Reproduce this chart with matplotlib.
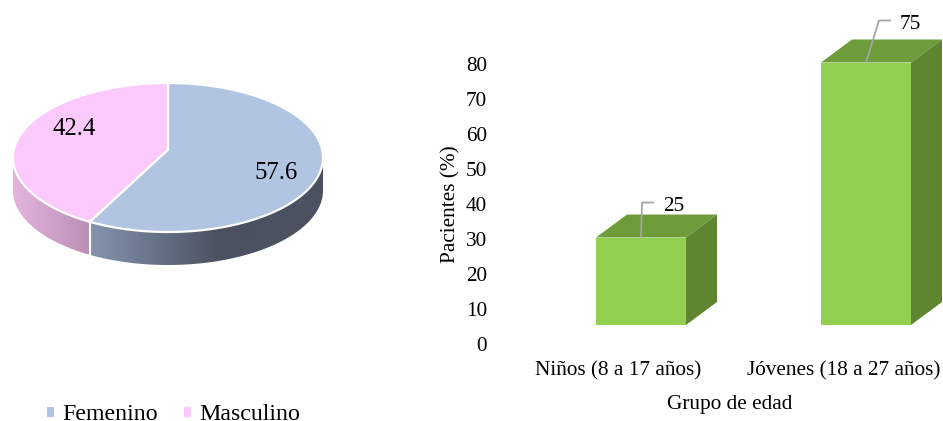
import numpy as np
import matplotlib
matplotlib.use("Agg")
import matplotlib.pyplot as plt
from matplotlib.colors import LinearSegmentedColormap
from matplotlib.patches import Patch, Polygon

plt.rcParams['font.family'] = ['Liberation Serif', 'DejaVu Serif']

# pie data
sexo = ["Femenino", "Masculino"]
sexo_pct = [57.6, 42.4]
sexo_colors = ["#B1C5E3", "#FBC9FB"]

# bar data
grupos = ["Niños (8 a 17 años)", "Jóvenes (18 a 27 años)"]
grupos_pct = [25, 75]
y_ticks = [0, 10, 20, 30, 40, 50, 60, 70, 80]

W, H = 943, 421
fig = plt.figure(figsize=(W / 100, H / 100), dpi=100, facecolor="white")


def px_axes(left, top, right, bottom):
    return fig.add_axes([left / W, 1 - bottom / H, (right - left) / W, (bottom - top) / H])


# ---- 3D pie, drawn in pixel coordinates ----
ax_pie = px_axes(0, 60, 340, 290)
ax_pie.axis("off")

cx, cy = 168, 157.5
a, b = 155, 74.5
wall = 33
s = 0.107  # perspective shift of the centre of the disc


def disc_point(t):
    # point on the unit disc seen with perspective, t in radians
    u, v = np.cos(t), np.sin(t)
    d = 1 + s * v
    return u * np.sqrt(1 - s ** 2) / d, (v + s) / d


def to_px(u, v):
    return cx + a * np.asarray(u), cy - b * np.asarray(v)


def side_wall(phi0, phi1, c0, c1, x_end):
    phi = np.linspace(phi0, phi1, 150)
    x, y = to_px(np.cos(phi), np.sin(phi))
    verts = np.r_[np.c_[x, y], np.c_[x, y + wall][::-1]]
    clip = Polygon(verts, transform=ax_pie.transData, facecolor="none", edgecolor="none")
    ax_pie.add_patch(clip)
    cmap = LinearSegmentedColormap.from_list("lado", [c0, c1])
    x0, x1 = verts[:, 0].min(), verts[:, 0].max()
    grad = np.clip((np.linspace(x0, x1, 256) - x0) / (x_end - x0), 0, 1)[None, :]
    im = ax_pie.imshow(grad, cmap=cmap, extent=(x0, x1, verts[:, 1].max(), verts[:, 1].min()),
                       aspect="auto", zorder=1, vmin=0, vmax=1)
    im.set_clip_path(clip)


fracs = np.array(sexo_pct) / sum(sexo_pct)
t_ini = np.pi / 2
t_cut = t_ini - 2 * np.pi * fracs[0]
u_cut, v_cut = disc_point(t_cut)
phi_cut = np.arctan2(v_cut, u_cut) % (2 * np.pi)

side_wall(np.pi, phi_cut, "#E4B5DD", "#BB8FB5", to_px(u_cut, 0)[0])
side_wall(phi_cut, 2 * np.pi, "#8595AD", "#4B5161", 218)
xc, yc = to_px(u_cut, v_cut)
ax_pie.plot([xc, xc], [yc, yc + wall], color="white", lw=1.5, zorder=2)
ax_pie.set_xlim(0, 340)
ax_pie.set_ylim(290, 60)

# top faces of the slices
t_edges = [t_ini, t_cut, t_ini - 2 * np.pi]
for i in range(2):
    t = np.linspace(t_edges[i], t_edges[i + 1], 200)
    x, y = to_px(*disc_point(t))
    ax_pie.add_patch(Polygon(np.r_[[[cx, cy - b * s]], np.c_[x, y]], closed=True,
                             facecolor=sexo_colors[i], edgecolor="white", lw=1.6, zorder=3))

ax_pie.text(276, 173, f"{sexo_pct[0]:.1f}", fontsize=17.8, ha="center", va="center", zorder=4)
ax_pie.text(74, 129, f"{sexo_pct[1]:.1f}", fontsize=17.8, ha="center", va="center", zorder=4)

handles = [Patch(facecolor=c, edgecolor="none") for c in sexo_colors]
fig.legend(handles, sexo, loc="center left", bbox_to_anchor=(47 / W, 1 - 415 / H), ncol=2,
           frameon=False, fontsize=17.2, handlelength=0.29, handleheight=0.29,
           handletextpad=0.33, columnspacing=1.12, borderpad=0, borderaxespad=0)

# ---- 3D bars ----
ax = px_axes(495, 0, 943, 344)
px_y = 3.5  # pixels per percentage point
px_x = 225  # pixels per category
ax.set_xlim((495 - 641) / px_x, (943 - 641) / px_x)
ax.set_ylim(0, 344 / px_y)

piso = 19 / px_y  # the floor of the bars sits above the zero label
dx, dy = 31 / px_x, 23 / px_y
ancho = 0.4
pos = np.arange(len(grupos))

ax.bar(pos, grupos_pct, width=ancho, bottom=piso, color="#92D050", zorder=2)
for p, v in zip(pos, grupos_pct):
    x0, x1 = p - ancho / 2, p + ancho / 2
    y0, y1 = piso, piso + v
    ax.add_patch(Polygon([(x0, y1), (x1, y1), (x1 + dx, y1 + dy), (x0 + dx, y1 + dy)],
                         facecolor="#6E9C3B", edgecolor="none", zorder=2))
    ax.add_patch(Polygon([(x1, y0), (x1 + dx, y0 + dy), (x1 + dx, y1 + dy), (x1, y1)],
                         facecolor="#5F8531", edgecolor="none", zorder=2))

# leader lines and value labels, offsets in pixels from the bar top
lideres = [[(0, 0), (1, 35), (13, 35)], [(0, 0), (13, 42), (25, 42)]]
for p, v, lid in zip(pos, grupos_pct, lideres):
    lx = [p + o[0] / px_x for o in lid]
    ly = [piso + v + o[1] / px_y for o in lid]
    ax.plot(lx, ly, color="#A6A6A6", lw=1.3, zorder=3, solid_capstyle="butt", clip_on=False)
    ax.text(lx[-1] + 9 / px_x, ly[-1] - 4 / px_y, str(v), fontsize=15.3, ha="left", va="center", zorder=4)

ax.set_yticks(y_ticks)
ax.set_xticks(pos - 0.1)
ax.set_xticklabels(grupos)
ax.tick_params(axis="both", length=0, labelsize=15.3)
ax.tick_params(axis="x", pad=12.5)
ax.tick_params(axis="y", pad=5.8)
for sp in ax.spines.values():
    sp.set_visible(False)
ax.patch.set_alpha(0)

ax.set_xlabel("Grupo de edad", fontsize=15.3, x=(730 - 495) / 448, labelpad=10.5)
ax.set_ylabel("Pacientes (%)", fontsize=15.3)
ax.yaxis.set_label_coords((460 - 495) / 448, (344 - 204) / 344)

fig.savefig("out.png", dpi=100)
